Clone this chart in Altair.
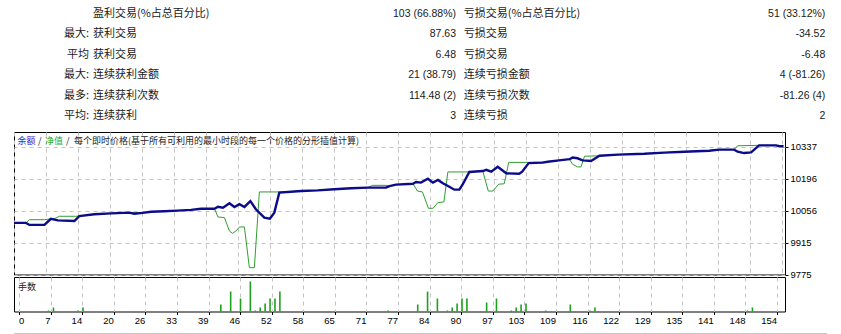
import json
import altair as alt
import pandas as pd

# ---------------- data ----------------
ROW_PREFIX = ["", "最大:", "平均", "最大:", "最多:", "平均:"]
LEFT_LABELS = ["盈利交易(%占总百分比)", "获利交易", "获利交易", "连续获利金额", "连续获利次数", "连续获利"]
LEFT_VALUES = ["103 (66.88%)", "87.63", "6.48", "21 (38.79)", "114.48 (2)", "3"]
RIGHT_LABELS = ["亏损交易(%占总百分比)", "亏损交易", "亏损交易", "连续亏损金额", "连续亏损次数", "连续亏损"]
RIGHT_VALUES = ["51 (33.12%)", "-34.52", "-6.48", "4 (-81.26)", "-81.26 (4)", "2"]

BAL_T = [0, 2.4, 3.1, 6.1, 7.4, 8.8, 12.1, 13.1, 16.1, 19.5, 23.1, 24.1, 25.8, 27.5, 30.1,
         32.8, 35.5, 37.5, 40.2, 40.9, 41.9, 43.2, 44.2, 45.2, 46.2, 47.4, 48.5, 50.2, 51.3, 52.2,
         53.2, 57.6, 60.9, 64.2, 67.6, 70.9, 74.6, 75.3, 76.6, 80.0, 80.6, 81.6, 83.0, 84.0, 85.0,
         86.0, 87.3, 88.3, 89.3, 90.0, 91.3, 94.0, 94.7, 95.7, 97.0, 98.7, 101.3, 101.9, 103.2, 106.0,
         107.0, 109.3, 111.4, 112.0, 113.0, 114.0, 115.7, 117.4, 121.1, 126.4, 130.4, 134.4, 139.4, 141.4, 144.4,
         145.1, 146.4, 147.8, 149.4, 152.8, 153.5, 154.3]
BAL_V = [10002, 10002, 9993, 9993, 10020, 10013, 10010, 10032, 10040, 10044, 10047, 10042, 10046, 10051, 10053,
         10056, 10059, 10064, 10064, 10073, 10069, 10088, 10072, 10084, 10072, 10098, 10062, 10025, 10020, 10047,
         10135, 10142, 10145, 10150, 10154, 10157, 10157, 10164, 10170, 10174, 10182, 10179, 10196, 10179, 10191,
         10176, 10161, 10148, 10148, 10172, 10226, 10230, 10235, 10227, 10249, 10220, 10218, 10227, 10265, 10267,
         10271, 10277, 10282, 10289, 10286, 10277, 10274, 10297, 10302, 10306, 10311, 10315, 10319, 10324, 10324,
         10315, 10309, 10312, 10343, 10343, 10339, 10339]

EQ_T = [0, 2.4, 3.1, 6.1, 7.4, 8.0, 9.1, 12.4, 13.1, 16.1, 19.5, 23.1, 25.8, 27.5, 30.1,
        32.8, 35.5, 37.5, 40.2, 40.9, 42.2, 43.2, 43.8, 44.5, 45.2, 46.2, 47.2, 48.2, 49.2, 53.2,
        57.6, 60.9, 64.2, 67.6, 70.9, 71.9, 74.6, 75.3, 76.6, 80.0, 80.9, 81.9, 83.1, 84.0, 85.0,
        86.2, 87.0, 91.3, 94.0, 95.1, 96.0, 97.2, 98.3, 99.2, 103.2, 106.0, 107.0, 109.3, 111.4, 112.0,
        113.0, 113.7, 114.4, 117.4, 121.1, 126.4, 130.4, 134.4, 139.4, 141.4, 144.4, 145.1, 149.4, 152.8, 153.5,
        154.3]
EQ_V = [10002, 10002, 10016, 10016, 10020, 10019, 10031, 10031, 10032, 10040, 10044, 10047, 10047, 10051, 10053,
        10056, 10059, 10064, 10064, 10028, 10025, 9966, 9956, 9966, 9984, 9984, 9805, 9805, 10138, 10138,
        10142, 10145, 10150, 10154, 10157, 10167, 10167, 10164, 10170, 10174, 10142, 10138, 10066, 10066, 10091,
        10094, 10226, 10226, 10230, 10142, 10142, 10172, 10174, 10268, 10268, 10269, 10271, 10277, 10282, 10260,
        10248, 10248, 10295, 10297, 10302, 10306, 10311, 10315, 10319, 10324, 10324, 10341, 10343, 10343, 10341,
        10341]

LOT_T = [6, 7, 12, 13, 41, 43, 45, 47, 48, 49, 50, 51, 52, 53, 75, 81, 83, 85, 87, 88, 89, 90, 91,
         95, 97, 100, 101, 102, 103, 107, 112, 116, 117, 148, 149]
LOT_V = [0.01, 0.04, 0.01, 0.04, 0.07, 0.20, 0.13, 0.30, 0.01, 0.04, 0.08, 0.13, 0.13, 0.20, 0.01,
         0.07, 0.20, 0.13, 0.01, 0.04, 0.08, 0.13, 0.13, 0.09, 0.13, 0.01, 0.04, 0.07, 0.08, 0.01,
         0.07, 0.01, 0.04, 0.01, 0.04]

X_TICK_LABELS = ["0", "7", "14", "20", "26", "33", "39", "46", "52", "58", "65", "71", "77",
                 "84", "90", "97", "103", "109", "116", "122", "129", "135", "141", "148", "154"]
Y_TICK_VALUES = [9775, 9915, 10056, 10196, 10337]
Y_TICK_LABELS = ["9775", "9915", "10056", "10196", "10337"]

# ---------------- helpers ----------------
N = len(X_TICK_LABELS) - 1
X_MAX = 154
X_TICKS = [i * X_MAX / N for i in range(N + 1)]
XS = alt.Scale(domain=[0, 154.6], nice=False, zero=False)
YS = alt.Scale(domain=[9775, 10401.6], nice=False, zero=False)

CJK = "Noto Sans CJK SC"
LAT = "Liberation Sans"
GRID = "#c4c4c4"
DASH = [4, 4]
BLUE = "#0c0c8a"
GREEN = "#2f9e2f"

y_label_expr = f"{json.dumps(Y_TICK_LABELS)}[indexof({json.dumps(Y_TICK_VALUES)}, datum.value)]"

# ---------------- table ----------------
tbl = pd.DataFrame({
    "row": list(range(len(LEFT_LABELS))),
    "prefix": ROW_PREFIX, "ll": LEFT_LABELS, "lv": LEFT_VALUES,
    "rl": RIGHT_LABELS, "rv": RIGHT_VALUES,
})
row_y = alt.Y("row:Q", scale=alt.Scale(domain=[0, 5], range=[13, 115]), axis=None)
base_t = alt.Chart(tbl)


def col(field, xpos, align, font, size):
    return base_t.mark_text(align=align, baseline="middle", font=font, fontSize=size,
                            color="#1a1a1a").encode(x=alt.value(xpos), y=row_y, text=f"{field}:N")


table = alt.layer(
    col("prefix", 75, "right", CJK, 11),
    col("ll", 79, "left", CJK, 11),
    col("lv", 442, "right", LAT, 10.5),
    col("rl", 449.7, "left", CJK, 11),
    col("rv", 811.3, "right", LAT, 10.5),
).properties(width=771, height=129, view=alt.ViewBackground(stroke="transparent"))

# ---------------- main panel ----------------
x_axis_main = alt.Axis(values=X_TICKS, tickCount=100, grid=True, labels=False, ticks=False,
                       domain=False, gridColor=GRID, gridDash=DASH, title=None)
y_axis = alt.Axis(orient="right", values=Y_TICK_VALUES, tickCount=100, labelExpr=y_label_expr,
                  grid=True, gridColor=GRID, gridDash=DASH, ticks=True, tickSize=3,
                  tickColor="black", domain=False, labelFont=LAT, labelFontSize=9.5,
                  labelColor="black", labelPadding=2, title=None, labelOverlap=False,
                  labelFlush=False)

eq_df = pd.DataFrame({"t": EQ_T, "v": EQ_V})
bal_df = pd.DataFrame({"t": BAL_T, "v": BAL_V})

eq_line = alt.Chart(eq_df).mark_line(color=GREEN, strokeWidth=1, clip=True).encode(
    x=alt.X("t:Q", scale=XS, axis=x_axis_main), y=alt.Y("v:Q", scale=YS, axis=y_axis))
bal_line = alt.Chart(bal_df).mark_line(color=BLUE, strokeWidth=2.4, clip=True).encode(
    x=alt.X("t:Q", scale=XS), y=alt.Y("v:Q", scale=YS))

one = pd.DataFrame({"a": [0]})


def label(txt, xpos, color, size=9):
    return alt.Chart(one).mark_text(text=txt, align="left", baseline="middle", font=CJK,
                                    fontSize=size, color=color).encode(x=alt.value(xpos), y=alt.value(9))


main = alt.layer(
    eq_line, bal_line,
    label("余额", 3.5, "#2b2bd0"),
    label("/", 24, "#222222"),
    label("净值", 31, "#19a819"),
    label("/", 52, "#222222"),
    label("每个即时价格(基于所有可利用的最小时段的每一个价格的分形插值计算)", 60, "#222222"),
).properties(width=771, height=142.5, view=alt.ViewBackground(stroke="black"))

# ---------------- lots panel ----------------
x_axis_vol = alt.Axis(values=X_TICKS, tickCount=100, labels=False, grid=True, gridColor=GRID,
                      gridDash=DASH, ticks=True, tickSize=3, tickColor="black", domain=False,
                      title=None)
lot_df = pd.DataFrame({"t": LOT_T, "lots": LOT_V})
bars = alt.Chart(lot_df).mark_bar(size=1.6, color="#1f9f1f").encode(
    x=alt.X("t:Q", scale=XS, axis=x_axis_vol),
    y=alt.Y("lots:Q", scale=alt.Scale(domain=[0, 0.345], nice=False), axis=None))

xl_df = pd.DataFrame({"t": X_TICKS, "lab": X_TICK_LABELS})
xl_first = alt.Chart(xl_df.iloc[:1]).mark_text(align="left", baseline="top", font=LAT, fontSize=9.5,
                                               color="black").encode(
    x=alt.X("t:Q", scale=XS), y=alt.value(38.5), text="lab:N")
xl_rest = alt.Chart(xl_df.iloc[1:]).mark_text(align="right", baseline="top", font=LAT, fontSize=9.5,
                                              color="black").encode(
    x=alt.X("t:Q", scale=XS), y=alt.value(38.5), text="lab:N")

lots_lbl = alt.Chart(one).mark_text(text="手数", align="left", baseline="middle", font=CJK,
                                    fontSize=9, color="#222222").encode(x=alt.value(4), y=alt.value(10))
strip = alt.Chart(one).mark_rect(color="#c8c8c8").encode(
    x=alt.value(0), x2=alt.value(813), y=alt.value(56), y2=alt.value(60))

vol = alt.layer(bars, xl_first, xl_rest, lots_lbl, strip).properties(
    width=771, height=34.5, view=alt.ViewBackground(stroke="black"))

chart = alt.vconcat(table, main, vol, spacing=2, bounds="flush").properties(
    padding={"left": 13, "top": 0, "right": 0, "bottom": 0}
).configure(background="white").configure_view(strokeWidth=1)

chart.save("out.html", embed_options={"renderer": "svg", "actions": False})
